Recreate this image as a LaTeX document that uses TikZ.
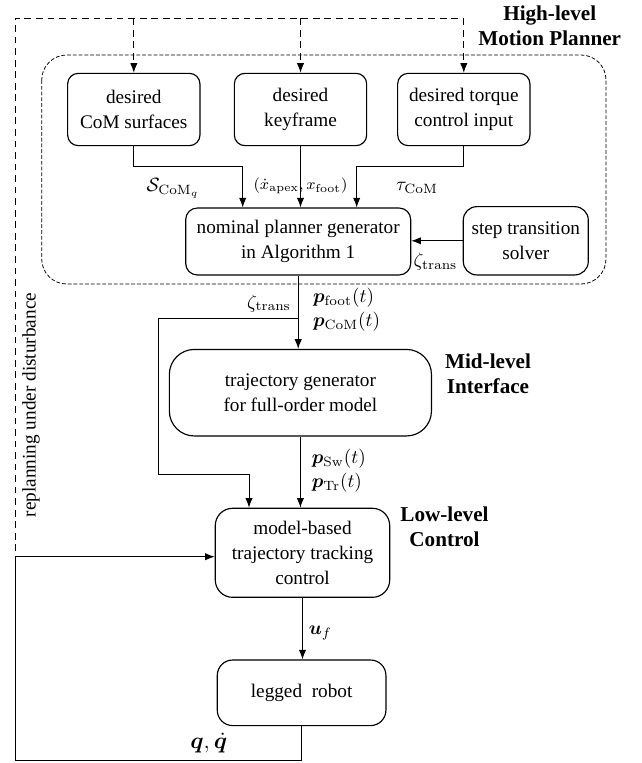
\documentclass[tikz,border=0pt]{standalone}
\usepackage[no-math]{fontspec}
\setmainfont{Liberation Serif}
\usepackage{amsmath,bm}
\usetikzlibrary{arrows,arrows.meta,calc}

\begin{document}
\begin{tikzpicture}[x=0.52pt,y=-0.52pt,
  blk/.style={draw,line width=0.6pt,align=center,inner sep=0pt,font=\fontsize{10}{13}\selectfont},
  lvl/.style={align=center,font=\fontsize{11}{13}\selectfont\bfseries},
  dsh/.style={line width=0.5pt,dash pattern=on 3.5pt off 2.5pt},
  tip/.style={-{Latex[length=5pt,width=3.8pt]}},
  con/.style={line width=0.5pt,tip}]
\useasboundingbox (0,0) rectangle (641,763);

% high-level planner frame
\draw[line width=0.4pt,dash pattern=on 2pt off 1pt,rounded corners=13pt] (41.7,55) rectangle (606,284);

\node[blk,rounded corners=5.5pt,minimum width=68.8pt,minimum height=37.6pt] (surf) at (133.8,109.5) {desired\\CoM surfaces};
\node[blk,rounded corners=5.5pt,minimum width=68.8pt,minimum height=37.6pt] (key) at (300.5,109.5) {desired\\keyframe};
\node[blk,rounded corners=5.5pt,minimum width=68.8pt,minimum height=37.6pt] (torq) at (463.8,109.5) {desired torque\\control input};
\node[blk,rounded corners=6pt,minimum width=117pt,minimum height=34.8pt] (plan) at (298.2,241.5) {nominal planner generator\\in Algorithm 1};
\node[blk,rounded corners=7pt,minimum width=65pt,minimum height=35.5pt] (solv) at (525.8,240.8) {step transition\\solver};
\node[blk,rounded corners=13pt,minimum width=136.3pt,minimum height=45pt] (traj) at (300.4,392.7) {trajectory generator\\for full-order model};
\node[blk,rounded corners=9pt,minimum width=90.7pt,minimum height=46.3pt] (ctrl) at (302.5,552.8) {model-based\\trajectory tracking\\control};
\node[blk,rounded corners=8pt,minimum width=87.7pt,minimum height=34.1pt] (robot) at (301.6,692.8) {legged~ robot};

\node[lvl] (hl) at (549.7,25.8) {High-level\\Motion Planner};
\node[lvl] (ml) at (488,373.5) {Mid-level\\Interface};
\node[lvl] (ll) at (444.5,526.3) {Low-level\\Control};
\node[rotate=90] (rep) at (31,405) {replanning under disturbance};

% signals
\node (lsurf) at (173,188) {$\mathcal{S}_{\mathrm{CoM}_q}$};
\node[font=\footnotesize] (lkey) at (300.5,186) {$(\dot{x}_{\mathrm{apex}},x_{\mathrm{foot}})$};
\node (ltau) at (417,188) {$\tau_{\mathrm{CoM}}$};
\node (lz1) at (435.5,261.7) {$\zeta_{\mathrm{trans}}$};
\node (lz2) at (269,303.3) {$\zeta_{\mathrm{trans}}$};
\node[anchor=west,align=left,font=\fontsize{10}{12.3}\selectfont] (lpf) at (306.3,310) {$\bm{p}_{\mathrm{foot}}(t)$\\$\bm{p}_{\mathrm{CoM}}(t)$};
\node[anchor=west,align=left,font=\fontsize{10}{12.3}\selectfont] (lps) at (305,470.5) {$\bm{p}_{\mathrm{Sw}}(t)$\\$\bm{p}_{\mathrm{Tr}}(t)$};
\node[anchor=west] (luf) at (302,633.3) {$\bm{u}_f$};
\node[font=\large,inner sep=1pt] (lq) at (208.7,743) {$\bm{q},\dot{\bm{q}}$};

% feedback
\draw[con] (robot.south) -- (robot.south |- 0,760.7) -- (15,760.7) -- (15,556.7) -- (ctrl.west |- 0,556.7);

% replanning loop
\coordinate (tl) at (15,18.3);
\coordinate (bl) at (15,760.7);
\draw[dsh] (robot.south |- bl) -- (bl) -- (tl) -- (tl -| torq.north);
\draw[dsh,tip] (tl -| surf.north) -- (surf.north);
\draw[dsh,tip] (tl -| key.north) -- (key.north);
\draw[dsh,tip] (tl -| torq.north) -- (torq.north);

% planner connections
\draw[con] (surf.south) |- (242.7,166.7) -- (242.7,0 |- plan.north);
\draw[con] (key.south) -- (key.south |- plan.north);
\draw[con] (torq.south) |- (356.7,166.7) -- (356.7,0 |- plan.north);
\draw[con] (solv.west) -- (solv.west -| plan.east);

\draw[con] (plan.south) -- (plan.south |- traj.north);
\coordinate (zj) at (plan.south |- 0,318.3);
\draw[con] (zj) -- (158.4,318.3) |- (249,474) -- (249,0 |- ctrl.north);
\draw[con] (traj.south) -- (traj.south |- ctrl.north);
\draw[con] (ctrl.south) -- (ctrl.south |- robot.north);
\end{tikzpicture}
\end{document}
